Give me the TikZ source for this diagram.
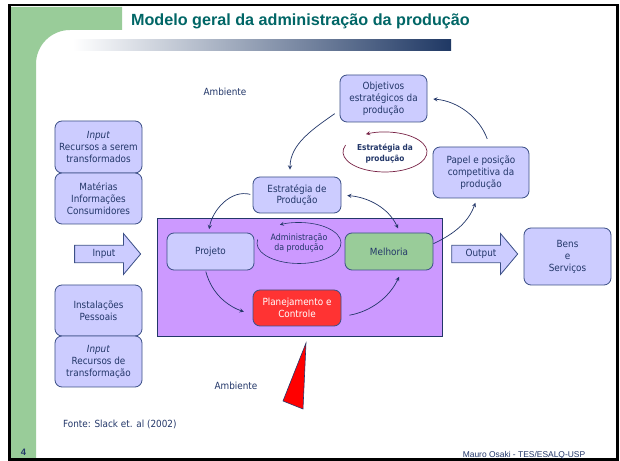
\documentclass[tikz,border=0pt]{standalone}
\usepackage{fontspec}
\setmainfont{DejaVu Sans Condensed}
\newfontfamily\arialfont{Liberation Sans}
\usetikzlibrary{calc}
\usetikzlibrary{shapes.arrows}

\definecolor{slidegreen}{RGB}{153,204,153}
\definecolor{titleteal}{RGB}{0,102,102}
\definecolor{barnavy}{RGB}{31,56,100}
\definecolor{barmid}{RGB}{195,200,215}
\definecolor{inknavy}{RGB}{35,55,105}
\definecolor{boxline}{RGB}{60,80,135}
\definecolor{boxfill}{RGB}{204,204,255}
\definecolor{areafill}{RGB}{204,153,255}
\definecolor{melhfill}{RGB}{153,204,153}
\definecolor{planfill}{RGB}{255,51,51}
\definecolor{ellline}{RGB}{120,35,70}

\newcommand\boxtext{\fontsize{8.4}{10.2}\selectfont}
\newcommand\smalltext{\fontsize{7.5}{9}\selectfont}

\tikzset{
  box/.style={rectangle, rounded corners=6pt, draw=boxline, line width=0.7pt,
    fill=boxfill, text=inknavy, font=\boxtext, align=center, inner sep=2pt},
  blockarrow/.style={single arrow, draw=boxline, line width=0.7pt, fill=boxfill,
    text=inknavy, font=\boxtext, minimum height=1.98cm, minimum width=1.23cm,
    single arrow head extend=0.3cm, single arrow tip angle=100, inner sep=2pt},
  txt/.style={text=inknavy, font=\boxtext, align=center},
  flow/.style={->, >=stealth, draw=inknavy, line width=0.6pt},
}

\begin{document}
\begin{tikzpicture}[x=0.03cm, y=0.03cm]
        \useasboundingbox (0,0) rectangle (620,461);
        \fill[white] (0,0) rectangle (620,461);
        % slide background
        \fill[slidegreen] (11,454) -- (122,454) -- (122,431) -- (70,431)
            arc[start angle=90, end angle=180, radius=34] -- (36,2) -- (11,2) -- cycle;
        \shade[left color=white, middle color=barmid, right color=barnavy] (73,410) rectangle (451,421);
        \draw[line width=2.2pt] (9.5,456) rectangle (617.5,1.5);
        \node[anchor=west, text=titleteal, font=\arialfont\bfseries\fontsize{13.8}{16}\selectfont] (title) at (127,440) {Modelo geral da administração da produção};

        % resources
        \node[box, minimum width=2.61cm, minimum height=1.56cm] (inA) at (98.5,314) {\textit{Input}\\Recursos a serem\\transformados};
        \node[box, minimum width=2.61cm, minimum height=1.53cm] (mat) at (98.5,262.5) {Matérias\\Informações\\Consumidores};
        \node[box, minimum width=2.61cm, minimum height=1.53cm] (inst) at (98.5,150.5) {Instalações\\Pessoais};
        \node[box, minimum width=2.61cm, minimum height=1.53cm] (inB) at (98.5,99.5) {\textit{Input}\\Recursos de\\transformação};
        \node[blockarrow] (inArr) at (104,207) {Input};

        % operation
        \draw[draw=inknavy, fill=areafill, line width=0.7pt] (157,243) rectangle (442,125);
        \node[box, minimum width=2.61cm, minimum height=1.11cm] (proj) at (210.5,209.5) {Projeto};
        \node[box, fill=melhfill, minimum width=2.64cm, minimum height=1.11cm] (melh) at (389,209.5) {Melhoria};
        \node[box, fill=planfill, text=white, minimum width=2.64cm, minimum height=1.08cm] (plan) at (297,153) {Planejamento e\\Controle};
        \node[txt, font=\smalltext] (adm) at (299,218) {Administração\\da produção};
        \draw[->, >=stealth, draw=inknavy, line width=0.5pt] ($(adm.center)+(170:42 and 20.5)$)
            arc[start angle=170, end angle=477, x radius=42, y radius=20.5];

        % strategy
        \node[box, minimum width=2.64cm, minimum height=1.08cm] (estr) at (297,266) {Estratégia de\\Produção};
        \node[box, minimum width=2.61cm, minimum height=1.41cm] (obj) at (383.5,362.5) {Objetivos\\estratégicos da\\produção};
        \node[box, minimum width=2.88cm, minimum height=1.53cm] (papel) at (481,288.5) {Papel e posição\\competitiva da\\produção};
        \node[txt, font=\bfseries\fontsize{7}{9}\selectfont] (estrat) at (385,307.5) {Estratégia da\\produção};
        \draw[->, >=stealth, draw=ellline, line width=0.6pt] ($(385,309)+(160:42 and 20)$)
            arc[start angle=160, end angle=477, x radius=42, y radius=20];

        % output
        \node[blockarrow] (outArr) at (481,207) {Output};
        \node[box, minimum width=2.61cm, minimum height=1.71cm] (bens) at (567.5,204.5) {Bens\\e\\Serviços};

        % connectors
        \draw[flow, shorten <=5pt, shorten >=6pt] (obj.195) to[out=215, in=90] ($(estr.north)+(-7,0)$);
        \draw[flow, shorten <=7pt, shorten >=5pt] ($(papel.north)+(9,0)$) to[out=110, in=-5] (obj.east);
        \draw[flow, shorten >=4pt] (melh.10) to[out=25, in=250] ($(papel.south)+(-4,0)$);
        \draw[flow, shorten <=2pt, shorten >=3pt] (estr.west) to[out=165, in=80] ($(proj.north)+(-2,0)$);
        \draw[flow, <->, shorten <=5pt, shorten >=4pt] (estr.east) to[out=-5, in=115] ($(melh.north)+(11,0)$);
        \draw[flow, shorten <=1pt, shorten >=8pt] ($(proj.south)+(-5,0)$) to[out=-75, in=160] ($(plan.west)+(0,-7)$);
        \draw[flow, shorten <=7pt, shorten >=6pt] (plan.-11) to[out=10, in=245] ($(melh.south)+(13,0)$);

        % environment
        \node[txt] (amb1) at (225,369) {Ambiente};
        \node[txt] (amb2) at (236,75) {Ambiente};
        \draw[draw=inknavy, fill=red, line width=0.5pt] (306,118) -- (283,60) -- (303,52) -- cycle;
        \node[txt, anchor=west] (fonte) at (59,37) {Fonte: Slack et. al (2002)};
        \node[text=inknavy, font=\arialfont\bfseries\fontsize{8}{9}\selectfont] (num) at (23.5,8.5) {4};
        \node[text=inknavy, font=\arialfont\fontsize{7.2}{8}\selectfont] (foot) at (524,6) {Mauro Osaki - TES/ESALQ-USP};
\end{tikzpicture}
\end{document}
